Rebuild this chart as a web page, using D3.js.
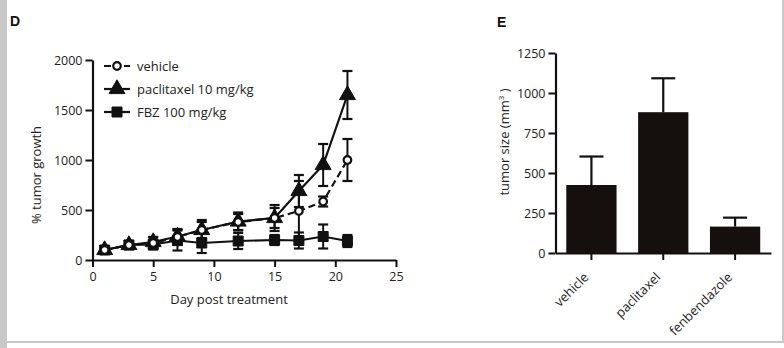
<!DOCTYPE html>
<html>
<head>
<meta charset="utf-8">
<script src="https://cdn.jsdelivr.net/npm/d3@7"></script>
<style>
  body { margin: 0; background: #fff; }
  svg { display: block; font-family: "Open Sans", sans-serif; }
</style>
</head>
<body>
<script>
// ---- data: panel D (tumor growth over time) ----
var days = [1, 3, 5, 7, 9, 12, 15, 17, 19, 21];
var vehicleMean = [100, 150, 170, 230, 300, 380, 420, 490, 585, 1000];
var vehicleErr  = [30, 40, 60, 80, 100, 80, 100, 300, 50, 210];
var paclitaxelMean = [100, 150, 180, 235, 300, 385, 420, 690, 950, 1650];
var paclitaxelErr  = [30, 40, 50, 70, 80, 90, 130, 160, 210, 240];
var fbzMean = [100, 150, 155, 195, 170, 190, 200, 195, 235, 190];
var fbzErr  = [30, 40, 50, 100, 100, 80, 50, 80, 120, 60];
var yTicksD = [0, 500, 1000, 1500, 2000];
var xTicksD = [0, 5, 10, 15, 20, 25];

// ---- data: panel E (tumor size) ----
var groups = ["vehicle", "paclitaxel", "fenbendazole"];
var sizeMean = [425, 880, 165];
var sizeErr  = [178, 212, 56];
var yTicksE = [0, 250, 500, 750, 1000, 1250];

function main(){
    var svg = d3.select("body").append("svg")
        .attr("width", 784)
        .attr("height", 348);

    var ink = "#111";
    var plain = d3.format("d");

    // page frame
    svg.append("rect").attr("x", 0).attr("y", 0).attr("width", 7).attr("height", 348).attr("fill", "#c8c8c8");
    svg.append("rect").attr("x", 782).attr("y", 0).attr("width", 2).attr("height", 343).attr("fill", "#c8c8c8");
    svg.append("rect").attr("x", 7).attr("y", 341).attr("width", 777).attr("height", 2).attr("fill", "#c8c8c8");

    // panel letters
    svg.append("text").attr("x", 10).attr("y", 26)
        .attr("font-size", "14px").attr("font-weight", "bold").attr("font-family", "Liberation Sans, sans-serif")
        .attr("fill", ink).text("D");
    svg.append("text").attr("x", 497).attr("y", 27)
        .attr("font-size", "14px").attr("font-weight", "bold").attr("font-family", "Liberation Sans, sans-serif")
        .attr("fill", ink).text("E");

    // ================= panel D =================
    var xD = d3.scaleLinear().domain([0, 25]).range([92.5, 396]);
    var yD = d3.scaleLinear().domain([0, 2000]).range([260, 60]);

    var gD = svg.append("g");

    function styleAxis(g){
        g.selectAll("path.domain").attr("stroke", ink).attr("stroke-width", 2.2);
        g.selectAll(".tick line").attr("stroke", ink).attr("stroke-width", 2);
        g.selectAll(".tick text").attr("fill", "#222").attr("font-size", "12.5px")
            .attr("font-family", "Open Sans, sans-serif");
    }

    gD.append("g")
        .attr("transform", "translate(0,260)")
        .call(d3.axisBottom(xD).tickValues(xTicksD).tickFormat(plain).tickSize(7).tickSizeOuter(0).tickPadding(5))
        .call(styleAxis);

    gD.append("g")
        .attr("transform", "translate(92.5,0)")
        .call(d3.axisLeft(yD).tickValues(yTicksD).tickFormat(plain).tickSize(7).tickSizeOuter(0).tickPadding(3))
        .call(styleAxis);

    gD.append("text")
        .attr("transform", "translate(41,175) rotate(-90)")
        .attr("text-anchor", "middle")
        .attr("font-size", "13px").attr("fill", "#222")
        .text("% tumor growth");

    gD.append("text")
        .attr("x", 229).attr("y", 304)
        .attr("text-anchor", "middle")
        .attr("font-size", "13px").attr("fill", "#222")
        .text("Day post treatment");

    var seriesD = [
        {name: "vehicle", mean: vehicleMean, err: vehicleErr, shape: d3.symbolCircle, size: 45, fill: "#fff", dash: "7,4"},
        {name: "paclitaxel 10 mg/kg", mean: paclitaxelMean, err: paclitaxelErr, shape: d3.symbolTriangle, size: 110, fill: ink, dash: null},
        {name: "FBZ 100 mg/kg", mean: fbzMean, err: fbzErr, shape: d3.symbolSquare, size: 100, fill: ink, dash: null}
    ];

    var line = d3.line()
        .x(function(d){ return xD(d.x); })
        .y(function(d){ return yD(d.y); });

    // draw FBZ first, then paclitaxel, then vehicle on top
    var drawOrder = [2, 1, 0];
    drawOrder.forEach(function(si){
        var s = seriesD[si];
        var pts = days.map(function(d, i){ return {x: d, y: s.mean[i], e: s.err[i]}; });
        var g = gD.append("g");

        // error bars
        var eb = g.selectAll(".eb").data(pts).enter().append("g");
        eb.append("line")
            .attr("x1", function(d){ return xD(d.x); }).attr("x2", function(d){ return xD(d.x); })
            .attr("y1", function(d){ return yD(d.y - d.e); }).attr("y2", function(d){ return yD(d.y + d.e); })
            .attr("stroke", ink).attr("stroke-width", 2);
        [1, -1].forEach(function(sign){
            eb.append("line")
                .attr("x1", function(d){ return xD(d.x) - 5; }).attr("x2", function(d){ return xD(d.x) + 5; })
                .attr("y1", function(d){ return yD(d.y + sign * d.e); }).attr("y2", function(d){ return yD(d.y + sign * d.e); })
                .attr("stroke", ink).attr("stroke-width", 2.2);
        });

        g.append("path")
            .datum(pts)
            .attr("d", line)
            .attr("fill", "none")
            .attr("stroke", ink)
            .attr("stroke-width", 2.2)
            .attr("stroke-dasharray", s.dash);

        g.selectAll(".pt").data(pts).enter().append("path")
            .attr("transform", function(d){ return "translate(" + xD(d.x) + "," + yD(d.y) + ")"; })
            .attr("d", d3.symbol().type(s.shape).size(s.size))
            .attr("fill", s.fill)
            .attr("stroke", ink)
            .attr("stroke-width", s.fill === "#fff" ? 2.2 : 1);
    });

    // legend
    var legend = gD.append("g").attr("transform", "translate(104,66)");
    seriesD.forEach(function(s, i){
        var row = legend.append("g").attr("transform", "translate(0," + (i * 23) + ")");
        row.append("line")
            .attr("x1", 0).attr("x2", 26).attr("y1", 0).attr("y2", 0)
            .attr("stroke", ink).attr("stroke-width", 2.2)
            .attr("stroke-dasharray", s.dash ? "7,3" : null);
        row.append("path")
            .attr("transform", "translate(13,0)")
            .attr("d", d3.symbol().type(s.shape).size(s.size))
            .attr("fill", s.fill)
            .attr("stroke", ink)
            .attr("stroke-width", s.fill === "#fff" ? 2.2 : 1);
        row.append("text")
            .attr("x", 33).attr("y", 0).attr("dy", "0.35em")
            .attr("font-size", "13px").attr("fill", "#222")
            .text(s.name);
    });

    // ================= panel E =================
    var xE = d3.scaleBand().domain(groups).range([555.5, 771]).paddingInner(0.3).paddingOuter(0.15);
    var yE = d3.scaleLinear().domain([0, 1250]).range([253, 53]);

    var gE = svg.append("g");

    gE.selectAll(".bar")
        .data(groups)
        .enter().append("rect")
        .attr("class", "bar")
        .attr("x", function(d){ return xE(d); })
        .attr("y", function(d, i){ return yE(sizeMean[i]); })
        .attr("width", xE.bandwidth())
        .attr("height", function(d, i){ return 253 - yE(sizeMean[i]); })
        .attr("fill", "#15100d");

    // error bars (upper only)
    gE.selectAll(".err")
        .data(groups)
        .enter().append("line")
        .attr("x1", function(d){ return xE(d) + xE.bandwidth() / 2; })
        .attr("x2", function(d){ return xE(d) + xE.bandwidth() / 2; })
        .attr("y1", function(d, i){ return yE(sizeMean[i]); })
        .attr("y2", function(d, i){ return yE(sizeMean[i] + sizeErr[i]); })
        .attr("stroke", ink).attr("stroke-width", 2.2);
    gE.selectAll(".cap")
        .data(groups)
        .enter().append("line")
        .attr("x1", function(d){ return xE(d) + xE.bandwidth() / 2 - 12; })
        .attr("x2", function(d){ return xE(d) + xE.bandwidth() / 2 + 12; })
        .attr("y1", function(d, i){ return yE(sizeMean[i] + sizeErr[i]); })
        .attr("y2", function(d, i){ return yE(sizeMean[i] + sizeErr[i]); })
        .attr("stroke", ink).attr("stroke-width", 2.2);

    var xAxisE = gE.append("g")
        .attr("transform", "translate(0,253)")
        .call(d3.axisBottom(xE).tickSize(7).tickSizeOuter(0))
        .call(styleAxis);
    xAxisE.selectAll(".tick text")
        .attr("text-anchor", "end")
        .attr("font-size", "13px")
        .attr("x", 0).attr("y", 0).attr("dy", 0)
        .attr("transform", "translate(-2,25) rotate(-45)");

    gE.append("g")
        .attr("transform", "translate(555.5,0)")
        .call(d3.axisLeft(yE).tickValues(yTicksE).tickFormat(plain).tickSize(7).tickSizeOuter(0).tickPadding(3))
        .call(styleAxis);

    var yLabE = gE.append("text")
        .attr("transform", "translate(509,142) rotate(-90)")
        .attr("text-anchor", "middle")
        .attr("font-size", "13px").attr("fill", "#222");
    yLabE.append("tspan").text("tumor size (mm");
    yLabE.append("tspan").attr("font-size", "8px").attr("baseline-shift", "super").text("3");
    yLabE.append("tspan").text(" )");
}
main();
</script>
</body>
</html>
